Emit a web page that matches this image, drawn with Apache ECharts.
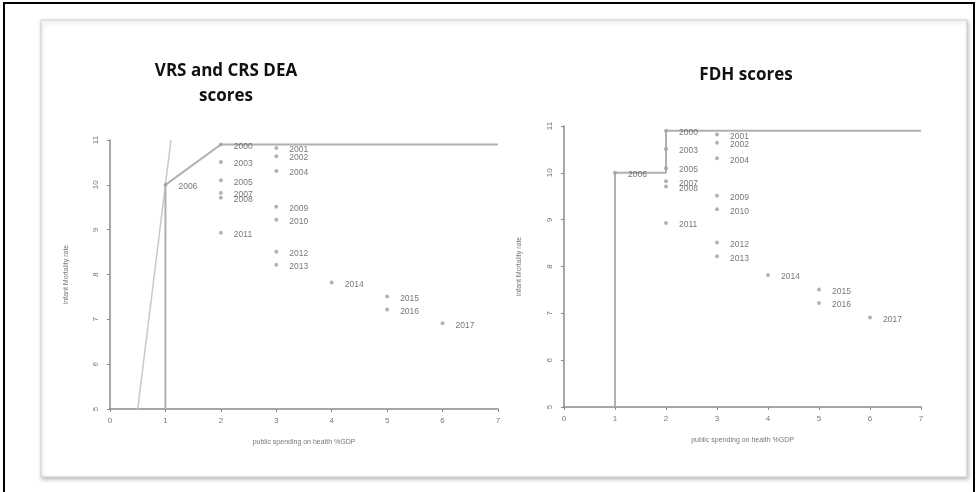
<!DOCTYPE html>
<html>
<head>
<meta charset="utf-8">
<script src="https://cdn.jsdelivr.net/npm/echarts@6/dist/echarts.min.js"></script>
<style>
  html, body { margin: 0; padding: 0; background: #fff; }
  #chart { width: 978px; height: 492px; }
</style>
</head>
<body>
<div id="chart"></div>
<script>
// observations: year, public spending on health (%GDP), infant mortality rate
var years = [2000, 2001, 2002, 2003, 2004, 2005, 2006, 2007, 2008,
             2009, 2010, 2011, 2012, 2013, 2014, 2015, 2016, 2017];
var spending = [2, 3, 3, 2, 3, 2, 1, 2, 2, 3, 3, 2, 3, 3, 4, 5, 5, 6];
var mortality = [10.9, 10.82, 10.64, 10.51, 10.31, 10.1, 10.0, 9.82, 9.71,
                 9.51, 9.22, 8.93, 8.51, 8.22, 7.82, 7.51, 7.22, 6.91];

// frontiers
var vrsX = [1, 1, 2, 7];
var vrsY = [5, 10, 10.9, 10.9];
var crsX = [0.5, 1.1];
var crsY = [5, 11];
var fdhX = [1, 1, 2, 2, 7];
var fdhY = [5, 10, 10, 10.9, 10.9];

function pairs(xs, ys) {
    return xs.map(function (x, i) { return [x, ys[i]]; });
}

var points = years.map(function (y, i) {
    return { value: [spending[i], mortality[i]], name: String(y) };
});

var axisColor = '#8a8a8a';
var tickFont = { fontSize: 8, color: '#777', fontFamily: 'Liberation Sans' };

function xAxis(idx) {
    return {
        gridIndex: idx, type: 'value', min: 0, max: 7, interval: 1,
        name: 'public spending on health %GDP', nameLocation: 'middle', nameGap: 30,
        nameTextStyle: { fontSize: 7, color: '#777', fontFamily: 'Liberation Sans' },
        axisLine: { lineStyle: { color: axisColor, width: 1.5 } },
        axisTick: { show: true, length: 3, lineStyle: { color: axisColor } },
        axisLabel: Object.assign({ margin: 8 }, tickFont),
        splitLine: { show: false }
    };
}

function yAxis(idx, gap) {
    return {
        gridIndex: idx, type: 'value', min: 5, max: 11, interval: 1,
        name: 'infant Mortality rate', nameLocation: 'middle', nameGap: gap,
        nameTextStyle: { fontSize: 7, color: '#777', fontFamily: 'Liberation Sans' },
        axisLine: { show: true, lineStyle: { color: axisColor, width: 1.5 } },
        axisTick: { show: true, length: 3, lineStyle: { color: axisColor } },
        axisLabel: Object.assign({ margin: 10, rotate: 90 }, tickFont),
        splitLine: { show: false }
    };
}

function scatter(idx) {
    return {
        type: 'scatter', xAxisIndex: idx, yAxisIndex: idx, data: points,
        symbol: 'circle', symbolSize: 4, z: 5,
        itemStyle: { color: '#a0a0a0' },
        label: {
            show: true, position: 'right', distance: 11,
            formatter: '{b}', fontSize: 8.5, color: '#555',
            fontFamily: 'Liberation Sans', offset: [0, 2]
        },
        emphasis: { disabled: true }
    };
}

function line(idx, data, color, width) {
    return {
        type: 'line', xAxisIndex: idx, yAxisIndex: idx, data: data,
        symbol: 'none', z: 3, silent: true,
        lineStyle: { color: color, width: width }
    };
}

var chart = echarts.init(document.getElementById('chart'), null, { renderer: 'canvas' });

chart.setOption({
    animation: false,
    backgroundColor: '#fff',
    title: [
        { text: 'VRS and CRS DEA\nscores', left: 221, top: 54, textAlign: 'center',
          textStyle: { fontSize: 17, fontWeight: 'bold', color: '#111', fontFamily: 'Open Sans', lineHeight: 25 } },
        { text: 'FDH scores', left: 741, top: 62, textAlign: 'center',
          textStyle: { fontSize: 17, fontWeight: 'bold', color: '#111', fontFamily: 'Open Sans' } }
    ],
    graphic: [
        { type: 'rect', z: -10, shape: { x: 4, y: 3, width: 970, height: 492 },
          style: { fill: '#fff', stroke: '#000', lineWidth: 2 } },
        { type: 'rect', z: -9, shape: { x: 41, y: 20, width: 926, height: 457 },
          style: { fill: '#fff', stroke: '#cfcfcf', lineWidth: 1,
                   shadowBlur: 4, shadowOffsetX: 1, shadowOffsetY: 2, shadowColor: 'rgba(0,0,0,0.25)' } }
    ],
    grid: [
        { left: 110, right: 480, top: 140, bottom: 83 },
        { left: 564, right: 57, top: 126, bottom: 85 }
    ],
    xAxis: [xAxis(0), xAxis(1)],
    yAxis: [yAxis(0, 40), yAxis(1, 41)],
    series: [
        line(0, pairs(crsX, crsY), '#c8c8c8', 1.5),
        line(0, pairs(vrsX, vrsY), '#b0b0b0', 2),
        scatter(0),
        line(1, pairs(fdhX, fdhY), '#b0b0b0', 2),
        scatter(1)
    ]
});
</script>
</body>
</html>
